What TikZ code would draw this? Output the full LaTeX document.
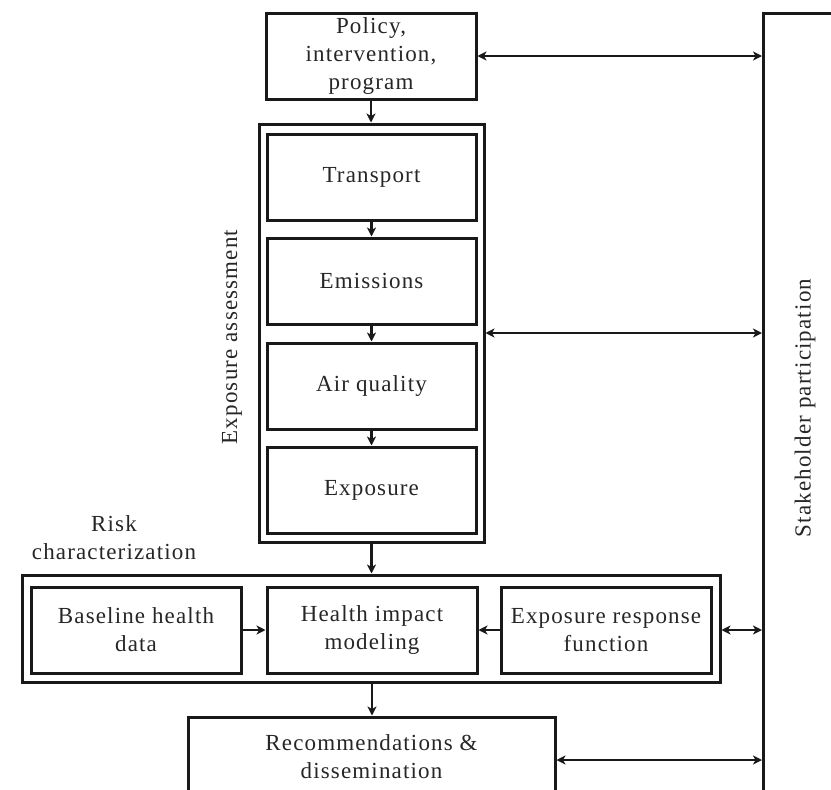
\documentclass[tikz,border=0pt]{standalone}
\usepackage{fontspec}
\setmainfont{Liberation Serif}[LetterSpace=5]
\usetikzlibrary{arrows.meta}
\begin{document}
\begin{tikzpicture}[x=1pt,y=-1pt,
  every node/.style={font=\fontsize{23}{28}\selectfont, text=black!85},
  box/.style={draw=black!90, line width=3pt, minimum width=210pt, minimum height=86pt, align=center, inner sep=0pt},
  frame/.style={draw=black!90, line width=3pt, inner sep=0pt},
  tip/.tip={Stealth[length=9pt,width=9pt,inset=2.5pt]},
  link/.style={line width=2.2pt, draw=black!90, -tip},
  twoway/.style={line width=2.2pt, draw=black!90, tip-tip},
  label/.style={align=center, inner sep=0pt}]
\useasboundingbox (0,0) rectangle (831,790);
\clip (0,0) rectangle (831,790);

% top box
\node[box] (policy) at (371,56) {Policy,\\intervention,\\program};

% exposure assessment column
\node[frame, minimum width=225pt, minimum height=418pt] (expo) at (371.5,333) {};
\node[box, minimum width=209pt] (transport) at (371.5,177) {Transport};
\node[box, minimum width=209pt] (emis) at (371.5,281) {Emissions};
\node[box, minimum width=209pt] (air) at (371.5,386) {Air quality};
\node[box, minimum width=209pt] (exposure) at (371.5,490) {Exposure};
\node[label, rotate=90] (expolab) at (232,337) {Exposure assessment};

% risk characterization row
\node[frame, minimum width=698pt, minimum height=107pt] (risk) at (371,628.5) {};
\node[box] (base) at (136,630) {Baseline health\\data};
\node[box] (hia) at (372,630) {Health impact\\modeling};
\node[box] (erf) at (606,630) {Exposure response\\function};
\node[label] (risklab) at (114,538) {Risk\\characterization};

% recommendations
\node[box, minimum width=367pt, minimum height=80pt] (rec) at (371.5,757) {Recommendations \&\\dissemination};

% stakeholder participation frame
\node[frame, minimum width=300pt, minimum height=900pt, anchor=north west] (stake) at (762,12) {};
\node[label, rotate=90] (stakelab) at (805,408) {Stakeholder participation};

% flow arrows
\draw[link] (policy.south) -- (expo.north -| policy.south);
\draw[link] (transport) -- (emis);
\draw[link] (emis) -- (air);
\draw[link] (air) -- (exposure);
\draw[link] (expo.south) -- (risk.north -| expo.south);
\draw[link] (base) -- (hia);
\draw[link] (erf) -- (hia);
\draw[link] (risk.south -| hia.south) -- (rec.north -| hia.south);

% links with stakeholders
\draw[twoway] (policy.east) -- (policy.east -| stake.west);
\draw[twoway] (expo.east) -- (expo.east -| stake.west);
\draw[twoway] (risk.east |- erf.east) -- (erf.east -| stake.west);
\draw[twoway] (rec.east |- 0,760) -- (stake.west |- 0,760);
\end{tikzpicture}
\end{document}
